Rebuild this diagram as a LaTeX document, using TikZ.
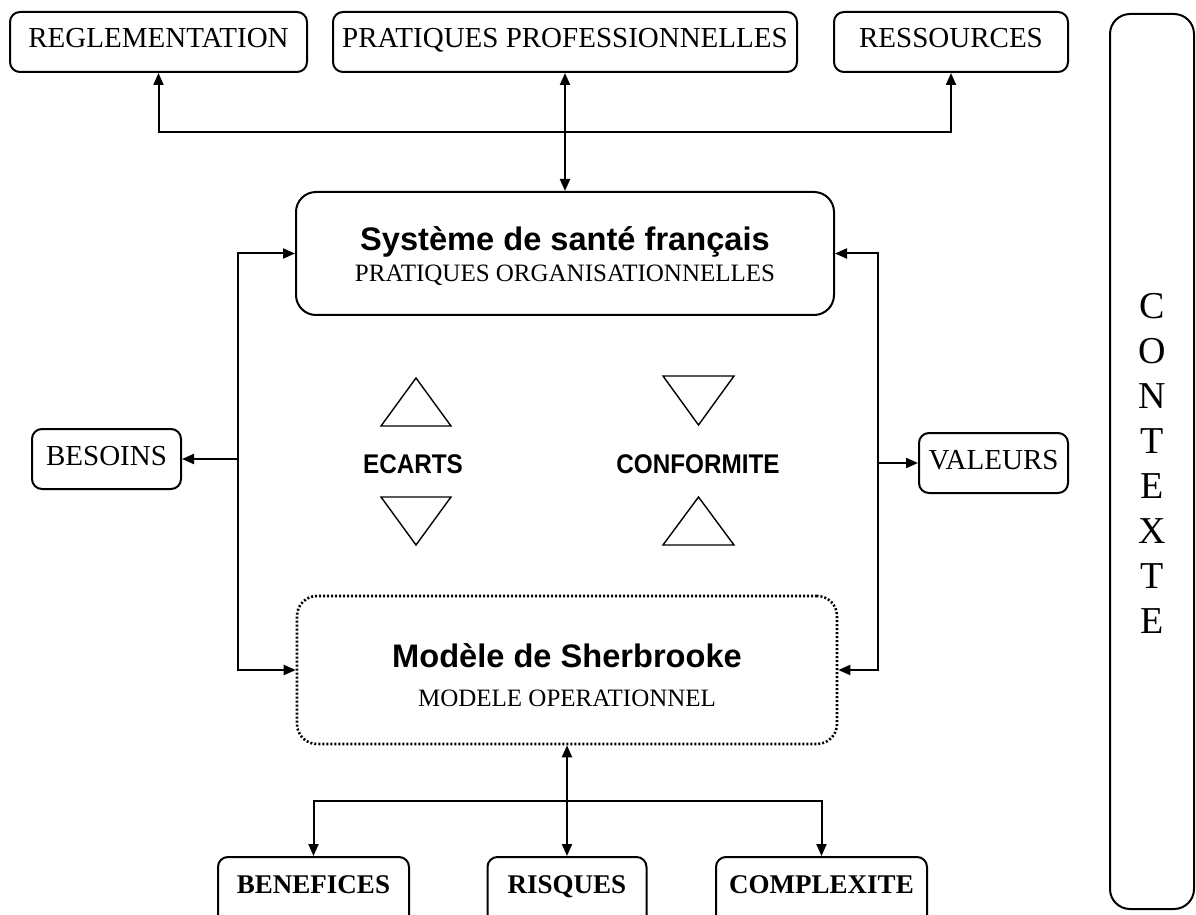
\documentclass[tikz,border=0pt]{standalone}
\usepackage{fontspec}
\usepackage{graphicx}
\setmainfont{Liberation Serif}
\newfontfamily\arialfam{Liberation Sans}
\usetikzlibrary{arrows.meta}

\begin{document}
\begin{tikzpicture}[x=0.5pt,y=-0.5pt,
  line width=1pt,
  tip/.style={-{Triangle[length=6pt,width=5pt]}},
  twotip/.style={{Triangle[length=6pt,width=5pt]}-{Triangle[length=6pt,width=5pt]}},
  box/.style={draw, rounded corners=5pt, inner sep=0pt, minimum height=30pt,
    font=\fontsize{14.5}{17}\selectfont, text height=10pt, text depth=4pt},
  bottombox/.style={draw, rounded corners=5pt, inner sep=0pt, minimum height=34pt,
    font=\fontsize{13.5}{16}\selectfont\bfseries, text height=9pt, text depth=7pt},
  bigbox/.style={draw, rounded corners=10pt, inner sep=0pt},
  dotbox/.style={draw, rounded corners=10pt, inner sep=0pt, line width=1.3pt,
    dash pattern=on 1pt off 1pt},
  titletext/.style={font=\arialfam\fontsize{16.3}{19}\selectfont\bfseries, anchor=base, inner sep=0pt},
  subtext/.style={font=\fontsize{12.5}{15}\selectfont, anchor=base, inner sep=0pt},
  gaptext/.style={font=\arialfam\fontsize{13.5}{16}\selectfont\bfseries, inner sep=0pt,
    text height=9.7pt, text depth=0pt},
  ctxletter/.style={font=\fontsize{19}{22}\selectfont, inner sep=0pt,
    text height=12.6pt, text depth=0pt},
  trishape/.style={line width=0.7pt, line join=miter}
]
\useasboundingbox (0,0) rectangle (1196,915);
\fill[white] (0,0) rectangle (1196,915);
\clip (0,0) rectangle (1196,915);

% upper row of influences
\node[box, minimum width=148.5pt] (regl) at (158.5,42) {REGLEMENTATION};
\node[box, minimum width=232pt] (prat) at (565,42) {PRATIQUES PROFESSIONNELLES};
\node[box, minimum width=117pt] (ress) at (951,42) {RESSOURCES};

% context column on the right
\node[bigbox, minimum width=42pt, minimum height=447.5pt] (ctx) at (1152,461.5) {};
\foreach \l [count=\i from 0] in {C,O,N,T,E,X,T,E}
  \node[ctxletter] (ctx\i) at (1152,306+45*\i) {\l};

% French health system
\node[bigbox, minimum width=269pt, minimum height=61.5pt] (sys) at (565,253.5) {};
\node[titletext] (systitle) at (565,250) {Système de santé français};
\node[subtext] (syssub) at (565,282) {PRATIQUES ORGANISATIONNELLES};

% Sherbrooke model
\node[dotbox, minimum width=270pt, minimum height=74pt] (mod) at (567,670) {};
\node[titletext] (modtitle) at (567,667) {Modèle de Sherbrooke};
\node[subtext] (modsub) at (567,706) {MODELE OPERATIONNEL};

% side boxes
\node[box, minimum width=74.5pt] (bes) at (106.5,459) {BESOINS};
\node[box, minimum width=74.5pt] (val) at (993.5,463) {VALEURS};

% lower row
\node[bottombox, minimum width=95.5pt] (ben) at (313.5,891) {BENEFICES};
\node[bottombox, minimum width=79.5pt] (ris) at (567,891) {RISQUES};
\node[bottombox, minimum width=105.5pt] (cpx) at (821.5,891) {COMPLEXITE};

% gaps and conformity
\node[gaptext] (ecarts) at (413,463.5) {\scalebox{0.9}[1]{ECARTS}};
\node[gaptext] (conf) at (698,463.5) {\scalebox{0.9}[1]{CONFORMITE}};
\draw[trishape] (381,426) -- (416,378) -- (451,426) -- cycle;
\draw[trishape] (381,497) -- (451,497) -- (416,545) -- cycle;
\draw[trishape] (663,376) -- (734,376) -- (698.5,425) -- cycle;
\draw[trishape] (663,545) -- (698.5,497) -- (734,545) -- cycle;

% connectors
\coordinate (tophub) at (565,132);
\draw[twotip] (sys.north) -- (prat.south);
\draw[tip] (tophub) -| (regl.south);
\draw[tip] (tophub) -| (ress.south);

\coordinate (lefthub) at (238,459);
\draw[twotip] (sys.west) -| (lefthub) |- (mod.west);
\draw[tip] (lefthub) -- (bes.east);

\coordinate (righthub) at (878,463);
\draw[twotip] (sys.east) -| (righthub) |- (mod.east);
\draw[tip] (righthub) -- (val.west);

\coordinate (bottomhub) at (567,801);
\draw[twotip] (mod.south) -- (ris.north);
\draw[tip] (bottomhub) -| (ben.north);
\draw[tip] (bottomhub) -| (cpx.north);
\end{tikzpicture}
\end{document}
